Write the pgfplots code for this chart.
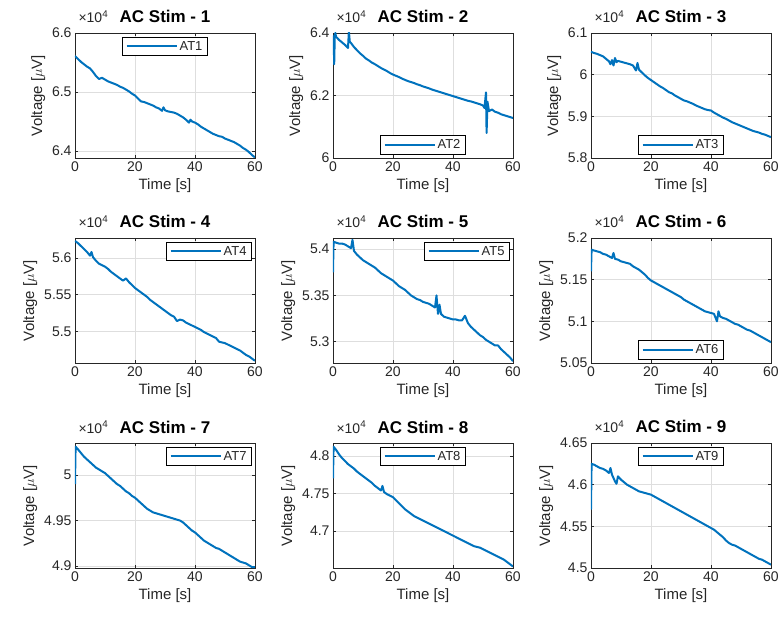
\documentclass[border=0pt]{standalone}
\usepackage{fontspec}
\setmainfont{Liberation Sans}
\usepackage{pgfplots}
\pgfplotsset{compat=1.18}
\usepgfplotslibrary{groupplots}

\definecolor{mblue}{RGB}{0,114,189}
\definecolor{axgray}{RGB}{38,38,38}
\definecolor{gridgray}{RGB}{222,222,222}

\pgfplotsset{
  stim/.style={
    width=180pt, height=125pt, scale only axis,
    xmin=0, xmax=60, xtick={0,20,40,60},
    grid=major, major grid style={gridgray, line width=0.5pt},
    axis line style={axgray, line width=0.7pt},
    tick style={axgray, line width=0.6pt},
    tick align=inside, major tick length=3pt,
    /pgf/number format/assume math mode=true,
    ticklabel style={font=\fontsize{14}{16}\selectfont, text=axgray},
    label style={font=\fontsize{15}{17}\selectfont, text=axgray},
    every axis title/.style={at={(0.5,1)}, anchor=base, yshift=10pt,
      font=\fontsize{17}{19}\selectfont\bfseries, text=black},
    xlabel={Time [s]}, ylabel={Voltage [$\mu$V]},
    legend style={draw=black, line width=0.7pt, fill=white, text=axgray,
      font=\fontsize{13}{15}\selectfont, inner xsep=3pt, inner ysep=2pt},
    legend image code/.code={\draw[#1] (0pt,0pt) -- (50pt,0pt);},
    extra description/.code={
      \node[anchor=base west, xshift=0pt, yshift=10pt, text=axgray,
        font=\fontsize{14}{16}\selectfont] at (rel axis cs:0,1) {×10\textsuperscript{4}};
    },
  },
  dline/.style={mblue, line width=2pt, line join=round, no markers},
  legN/.style={legend style={at={(0.5,0.97)}, anchor=north}},
  legS/.style={legend style={at={(0.5,0.03)}, anchor=south}},
  legNE/.style={legend style={at={(0.983,0.97)}, anchor=north east}},
}

\begin{document}
\begin{tikzpicture}
\begin{groupplot}[group style={group size=3 by 3, horizontal sep=78pt, vertical sep=80pt}, stim]

% 1
\nextgroupplot[title={AC Stim - 1}, ymin=6.388, ymax=6.6, ytick={6.4,6.5,6.6}, legN]
\addplot[dline] coordinates {
(0,6.561)(1,6.556)(2,6.551)(3,6.547)(4,6.543)(5,6.540)(6,6.534)(7,6.527)(8,6.522)(9,6.524)
(10,6.521)(11,6.518)(12,6.516)(13,6.514)(14,6.512)(15,6.509)(16,6.507)(17,6.504)(18,6.501)(19,6.497)
(20,6.494)(21,6.489)(22,6.484)(23,6.483)(24,6.481)(25,6.479)(26,6.477)(27,6.474)(28,6.472)(29,6.468)
(29.5,6.474)(30,6.469)(31,6.467)(32,6.466)(33,6.465)(34,6.463)(35,6.460)(36,6.457)(37,6.453)(38,6.448)
(38.5,6.453)(39,6.450)(40,6.448)(41,6.445)(42,6.441)(43,6.438)(44,6.435)(45,6.432)(46,6.429)(47,6.427)
(48,6.425)(49,6.424)(50,6.421)(51,6.419)(52,6.417)(53,6.415)(54,6.412)(55,6.409)(56,6.405)(57,6.402)
(58,6.398)(59,6.393)(60,6.389)
};
\addlegendentry{AT1}

% 2
\nextgroupplot[title={AC Stim - 2}, ymin=6.0, ymax=6.4, ytick={6,6.2,6.4}, legS]
\addplot[dline] coordinates {
(0,6.385)(0.2,6.390)(0.4,6.300)(0.6,6.395)(0.8,6.400)(1,6.388)(2,6.378)(3,6.370)(4,6.362)(5,6.352)
(5.3,6.405)(5.6,6.372)(6,6.368)(7,6.355)(8,6.345)(9,6.335)(10,6.327)(11,6.318)(12,6.312)(13,6.305)
(14,6.300)(15,6.294)(16,6.288)(17,6.283)(18,6.278)(19,6.272)(20,6.267)(21,6.263)(22,6.259)(23,6.254)
(24,6.250)(25,6.246)(26,6.243)(27,6.240)(28,6.236)(29,6.233)(30,6.229)(31,6.226)(32,6.223)(33,6.219)
(34,6.216)(35,6.213)(36,6.210)(37,6.207)(38,6.204)(39,6.201)(40,6.198)(41,6.195)(42,6.192)(43,6.189)
(44,6.186)(45,6.183)(46,6.181)(47,6.178)(48,6.175)(49,6.172)(50,6.168)(50.5,6.160)(51,6.210)(51.2,6.080)
(51.5,6.180)(52,6.150)(53,6.155)(54,6.148)(55,6.145)(56,6.140)(57,6.137)(58,6.134)(59,6.131)(60,6.128)
};
\addlegendentry{AT2}

% 3
\nextgroupplot[title={AC Stim - 3}, ymin=5.8, ymax=6.1, ytick={5.8,5.9,6,6.1}, legS]
\addplot[dline] coordinates {
(0,6.055)(1,6.052)(2,6.050)(3,6.047)(4,6.044)(5,6.038)(6,6.032)(6.5,6.025)(7,6.035)(7.5,6.022)
(8,6.040)(8.5,6.030)(9,6.033)(10,6.031)(11,6.029)(12,6.027)(13,6.025)(14,6.022)(15,6.010)(15.5,6.028)
(16,6.012)(17,6.005)(18,5.998)(19,5.992)(20,5.987)(21,5.982)(22,5.977)(23,5.972)(24,5.968)(25,5.963)
(26,5.958)(27,5.955)(28,5.950)(29,5.946)(30,5.942)(31,5.938)(32,5.936)(33,5.933)(34,5.930)(35,5.926)
(36,5.923)(37,5.920)(38,5.917)(39,5.915)(40,5.914)(41,5.909)(42,5.905)(43,5.901)(44,5.897)(45,5.894)
(46,5.890)(47,5.886)(48,5.883)(49,5.880)(50,5.877)(51,5.874)(52,5.871)(53,5.868)(54,5.865)(55,5.863)
(56,5.861)(57,5.858)(58,5.856)(59,5.853)(60,5.850)
};
\addlegendentry{AT3}

% 4
\nextgroupplot[title={AC Stim - 4}, ymin=5.457, ymax=5.627, ytick={5.5,5.55,5.6}, legNE]
\addplot[dline] coordinates {
(0,5.623)(1,5.620)(2,5.616)(3,5.612)(4,5.608)(5,5.603)(5.5,5.608)(6,5.601)(7,5.596)(8,5.592)
(9,5.590)(10,5.588)(11,5.585)(12,5.581)(13,5.578)(14,5.575)(15,5.572)(16,5.569)(17,5.572)(18,5.567)
(19,5.563)(20,5.559)(21,5.556)(22,5.553)(23,5.550)(24,5.547)(25,5.543)(26,5.540)(27,5.537)(28,5.534)
(29,5.531)(30,5.528)(31,5.525)(32,5.522)(33,5.520)(34,5.514)(35,5.516)(36,5.515)(37,5.512)(38,5.510)
(39,5.508)(40,5.506)(41,5.504)(42,5.502)(43,5.499)(44,5.497)(45,5.495)(46,5.493)(47,5.491)(48,5.486)
(49,5.485)(50,5.484)(51,5.482)(52,5.480)(53,5.478)(54,5.476)(55,5.474)(56,5.471)(57,5.468)(58,5.466)
(59,5.463)(60,5.460)
};
\addlegendentry{AT4}

% 5
\nextgroupplot[title={AC Stim - 5}, ymin=5.277, ymax=5.412, ytick={5.3,5.35,5.4}, legNE]
\addplot[dline] coordinates {
(0,5.375)(0.2,5.408)(1,5.407)(2,5.406)(3,5.406)(4,5.405)(5,5.403)(6,5.401)(6.5,5.410)(7,5.398)
(8,5.394)(9,5.391)(10,5.388)(11,5.386)(12,5.384)(13,5.382)(14,5.380)(15,5.377)(16,5.374)(17,5.372)
(18,5.370)(19,5.368)(20,5.366)(21,5.363)(22,5.360)(23,5.358)(24,5.356)(25,5.353)(26,5.350)(27,5.348)
(28,5.346)(29,5.345)(30,5.343)(31,5.342)(32,5.341)(33,5.339)(34,5.337)(34.5,5.350)(35,5.330)(35.5,5.340)
(36,5.330)(37,5.327)(38,5.326)(39,5.325)(40,5.324)(41,5.324)(42,5.323)(43,5.323)(44,5.328)(45,5.320)
(46,5.316)(47,5.313)(48,5.310)(49,5.307)(50,5.305)(51,5.302)(52,5.300)(53,5.298)(54,5.296)(55,5.296)
(56,5.292)(57,5.289)(58,5.286)(59,5.283)(60,5.279)
};
\addlegendentry{AT5}

% 6
\nextgroupplot[title={AC Stim - 6}, ymin=5.05, ymax=5.2, ytick={5.05,5.1,5.15,5.2}, legS]
\addplot[dline] coordinates {
(0,5.160)(0.2,5.186)(1,5.185)(2,5.184)(3,5.183)(4,5.181)(5,5.180)(6,5.178)(7,5.176)(7.5,5.182)
(8,5.175)(9,5.174)(10,5.172)(11,5.171)(12,5.170)(13,5.169)(14,5.166)(15,5.164)(16,5.162)(17,5.159)
(18,5.156)(19,5.152)(20,5.149)(21,5.147)(22,5.145)(23,5.143)(24,5.141)(25,5.139)(26,5.137)(27,5.135)
(28,5.133)(29,5.131)(30,5.129)(31,5.126)(32,5.124)(33,5.122)(34,5.120)(35,5.118)(36,5.116)(37,5.114)
(38,5.112)(39,5.111)(40,5.110)(41,5.109)(42,5.100)(42.5,5.112)(43,5.106)(44,5.104)(45,5.103)(46,5.101)
(47,5.099)(48,5.097)(49,5.096)(50,5.094)(51,5.092)(52,5.090)(53,5.089)(54,5.087)(55,5.085)(56,5.083)
(57,5.081)(58,5.079)(59,5.077)(60,5.075)
};
\addlegendentry{AT6}

% 7
\nextgroupplot[title={AC Stim - 7}, ymin=4.898, ymax=5.035, ytick={4.9,4.95,5}, legNE]
\addplot[dline] coordinates {
(0,4.990)(0.2,5.031)(1,5.028)(2,5.024)(3,5.020)(4,5.017)(5,5.014)(6,5.011)(7,5.008)(8,5.006)
(9,5.004)(10,5.002)(11,4.999)(12,4.996)(13,4.993)(14,4.990)(15,4.988)(16,4.985)(17,4.982)(18,4.980)
(19,4.977)(20,4.975)(21,4.972)(22,4.969)(23,4.966)(24,4.963)(25,4.961)(26,4.959)(27,4.958)(28,4.957)
(29,4.956)(30,4.955)(31,4.954)(32,4.953)(33,4.952)(34,4.951)(35,4.950)(36,4.948)(37,4.945)(38,4.942)
(39,4.939)(40,4.937)(41,4.934)(42,4.931)(43,4.928)(44,4.926)(45,4.924)(46,4.922)(47,4.920)(48,4.919)
(49,4.917)(50,4.915)(51,4.913)(52,4.911)(53,4.909)(54,4.907)(55,4.905)(56,4.904)(57,4.903)(58,4.901)
(59,4.899)(60,4.899)
};
\addlegendentry{AT7}

% 8
\nextgroupplot[title={AC Stim - 8}, ymin=4.651, ymax=4.817, ytick={4.7,4.75,4.8}, legN]
\addplot[dline] coordinates {
(0,4.770)(0.2,4.812)(1,4.808)(2,4.802)(3,4.797)(4,4.793)(5,4.789)(6,4.786)(7,4.783)(8,4.779)
(9,4.776)(10,4.773)(11,4.770)(12,4.767)(13,4.764)(14,4.760)(15,4.757)(16,4.754)(16.5,4.760)(17,4.752)
(18,4.749)(19,4.747)(20,4.745)(21,4.741)(22,4.737)(23,4.733)(24,4.729)(25,4.726)(26,4.723)(27,4.720)
(28,4.718)(29,4.716)(30,4.714)(31,4.712)(32,4.710)(33,4.708)(34,4.706)(35,4.704)(36,4.702)(37,4.700)
(38,4.698)(39,4.696)(40,4.694)(41,4.692)(42,4.690)(43,4.688)(44,4.686)(45,4.684)(46,4.682)(47,4.680)
(48,4.679)(49,4.678)(50,4.676)(51,4.674)(52,4.672)(53,4.670)(54,4.668)(55,4.666)(56,4.664)(57,4.662)
(58,4.659)(59,4.656)(60,4.653)
};
\addlegendentry{AT8}

% 9
\nextgroupplot[title={AC Stim - 9}, ymin=4.5, ymax=4.65, ytick={4.5,4.55,4.6,4.65}, legN]
\addplot[dline] coordinates {
(0,4.570)(0.2,4.625)(1,4.624)(2,4.622)(3,4.620)(4,4.619)(5,4.617)(6,4.614)(6.5,4.620)(7,4.612)
(8,4.604)(8.5,4.601)(9,4.610)(10,4.606)(11,4.603)(12,4.600)(13,4.598)(14,4.596)(15,4.594)(16,4.592)
(17,4.591)(18,4.590)(19,4.589)(20,4.588)(21,4.586)(22,4.584)(23,4.582)(24,4.580)(25,4.578)(26,4.576)
(27,4.574)(28,4.572)(29,4.570)(30,4.568)(31,4.566)(32,4.564)(33,4.562)(34,4.560)(35,4.558)(36,4.556)
(37,4.554)(38,4.552)(39,4.550)(40,4.548)(41,4.546)(42,4.543)(43,4.540)(44,4.537)(45,4.533)(46,4.530)
(47,4.528)(48,4.527)(49,4.525)(50,4.523)(51,4.521)(52,4.519)(53,4.517)(54,4.515)(55,4.513)(56,4.511)
(57,4.510)(58,4.508)(59,4.506)(60,4.504)
};
\addlegendentry{AT9}

\end{groupplot}
% page frame matching the reference margins
\pgfresetboundingbox
\useasboundingbox ([shift={(-75pt,33pt)}]group c1r1.north west) rectangle ([shift={(706pt,-590pt)}]group c1r1.north west);
\end{tikzpicture}
\end{document}
